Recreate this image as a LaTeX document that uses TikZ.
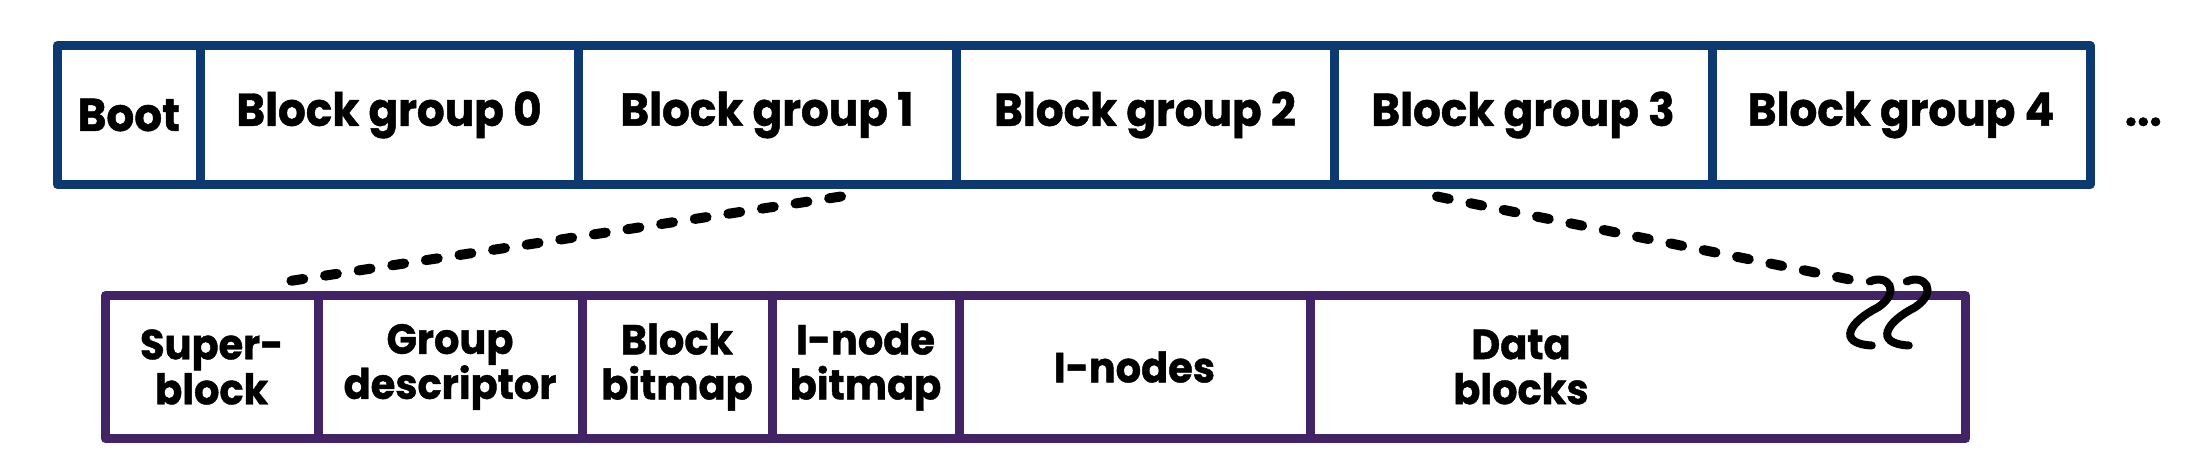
\documentclass[tikz,border=0pt]{standalone}
\usepackage{fontspec}
\newfontfamily\diafont{Poppins}[FakeStretch=0.95, FakeBold=1]
\usetikzlibrary{positioning}

\definecolor{groupblue}{RGB}{12,58,112}
\definecolor{grouppurple}{RGB}{66,36,102}

\tikzset{every picture/.style={line width=0.75pt}}
\tikzset{
	topcell/.style={draw=groupblue, line width=4.5pt, line join=round, outer sep=0pt, inner sep=0pt, minimum height=69.5pt, minimum width=189pt, font=\diafont\bfseries\fontsize{23}{27}\selectfont},
	subcell/.style={draw=grouppurple, line width=4.5pt, line join=round, outer sep=0pt, inner sep=0pt, minimum height=71.5pt, align=center, font=\diafont\bfseries\fontsize{21}{22.5}\selectfont},
	zoomline/.style={line width=5pt, dash pattern=on 6pt off 11pt, line cap=round},
	breakline/.style={line width=4pt, line cap=round},
}

\begin{document}
\begin{tikzpicture}[x=0.5pt,y=0.5pt,yscale=-1,xscale=1]
	\path (0,0) rectangle (2200,470); %set diagram size 2200 x 470
	
	% Disk: boot and block groups
	\node[topcell, minimum width=71.25pt] (boot) at (128.75,115) {Boot};
	\node[topcell, right=0pt of boot] (bg0) {Block group 0};
	\node[topcell, right=0pt of bg0] (bg1) {Block group 1};
	\node[topcell, right=0pt of bg1] (bg2) {Block group 2};
	\node[topcell, right=0pt of bg2] (bg3) {Block group 3};
	\node[topcell, right=0pt of bg3] (bg4) {Block group 4};
	% Text Node
	\node[anchor=base west, inner sep=0pt, font=\diafont\bfseries\fontsize{23}{27}\selectfont] (more) at ([xshift=17pt]bg4.base east) {...};
	
	% One block group
	\node[subcell, minimum width=106.25pt] (sb) at (211.75,367) {Super-\\block};
	\node[subcell, minimum width=132pt, right=0pt of sb] (gd) {Group\\descriptor};
	\node[subcell, minimum width=95pt, right=0pt of gd] (bb) {Block\\bitmap};
	\node[subcell, minimum width=93.5pt, right=0pt of bb] (ib) {I-node\\bitmap};
	\node[subcell, minimum width=175.5pt, right=0pt of ib] (inodes) {I-nodes};
	\node[subcell, minimum width=327.75pt, right=0pt of inodes] (data) {};
	% Text Node
	\node[align=center, inner sep=0pt, font=\diafont\bfseries\fontsize{21}{22.5}\selectfont] (datatext) at ([xshift=-58.4pt]data.center) {Data\\blocks};
	
	% Zoom lines
	\coordinate (brk) at ([xshift=116pt,yshift=-7pt]data.north);
	\draw[zoomline] ([xshift=37pt,yshift=6pt]bg1.south) -- ([xshift=31pt,yshift=-6pt]sb.north);
	\draw[zoomline] ([xshift=-43pt,yshift=6pt]bg3.south) -- ([xshift=-5pt]brk);
	
	% Break mark
	\foreach \dx in {0,37} {
		\draw[breakline, shift={(brk)}] (\dx,0) .. controls ({\dx+18},-8) and ({\dx+32},10) .. ({\dx+8},26) .. controls ({\dx-20},40) and ({\dx-34},62) .. ({\dx+2},64);
	}
	
\end{tikzpicture}
\end{document}
